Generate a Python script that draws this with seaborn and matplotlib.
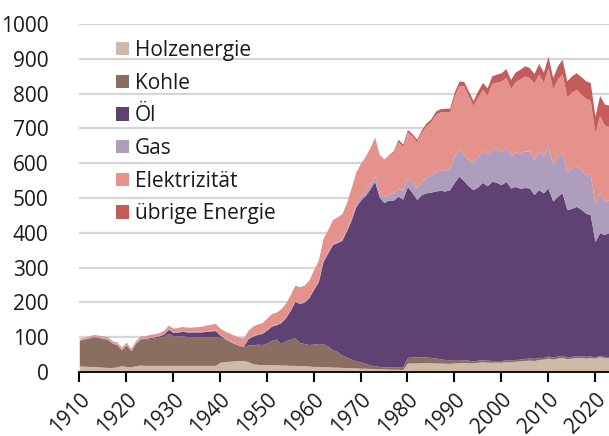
import matplotlib
matplotlib.use("Agg")
import matplotlib.pyplot as plt
import seaborn as sns
import pandas as pd
from matplotlib.patches import Patch

years = list(range(1910, 2024))

holz = [17,17,16,16,15,14,13,13,15,18,
        16,15,18,20,19,19,19,19,19,19,
        19,19,19,19,19,19,19,19,19,19,
        28,30,31,32,33,33,30,24,22,21,
        21,21,21,20,20,19,19,18,18,17,
        16,16,15,15,14,14,13,13,12,12,
        11,11,10,10,9,9,8,8,8,7,
        26,26,26,27,27,27,26,26,25,25,
        26,27,27,27,26,28,29,28,28,28,
        28,30,29,31,32,33,34,33,36,37,
        40,37,40,42,38,40,41,42,40,41,
        40,44,41,41]
kohle = [74,77,81,85,84,82,80,70,64,46,
         62,45,64,75,75,77,79,81,84,92,
         85,85,85,83,83,82,82,83,83,82,
         72,63,56,50,43,40,48,54,58,58,
         62,70,74,62,70,76,80,66,64,62,
         64,66,66,60,50,45,36,30,25,20,
         18,14,10,8,7,6,7,7,6,7,
         16,17,18,17,16,15,14,12,11,10,
         10,9,8,7,6,6,6,6,5,5,
         5,5,5,5,5,6,6,6,6,5,
         6,6,6,6,5,5,5,5,5,5,
         4,4,4,3]
oel = [1,1,1,1,1,1,1,0,0,0,
       1,1,1,1,2,3,3,4,6,12,
       10,11,13,13,13,14,14,15,16,18,
       6,3,2,1,1,1,18,25,28,32,
       38,41,41,60,66,82,104,113,119,135,
       158,178,237,267,302,313,329,363,400,444,
       465,482,506,530,486,472,479,479,491,483,
       491,472,452,466,472,475,480,484,484,489,
       509,527,515,501,492,498,510,501,515,512,
       505,513,495,497,491,491,489,471,482,473,
       483,448,459,467,424,425,430,421,412,406,
       331,352,350,357]
gas = [2,2,2,2,2,2,2,2,2,2,
       2,2,2,2,2,2,2,2,2,2,
       2,2,2,2,2,2,2,2,2,2,
       2,2,2,2,1,1,2,2,2,2,
       2,2,2,2,2,2,2,2,2,2,
       3,3,4,4,4,4,5,5,6,8,
       10,12,14,16,14,16,17,20,25,25,
       25,30,33,38,45,48,57,58,60,61,
       77,77,75,77,78,88,92,90,92,95,
       94,100,92,99,102,105,106,101,111,106,
       119,105,117,115,110,115,116,114,111,116,
       111,115,95,95]
elektrizitaet = [3,3,4,4,4,5,5,5,5,6,
                 5,5,5,6,6,7,7,7,9,10,
                 10,11,12,12,12,13,14,16,17,19,
                 18,20,21,21,22,23,22,27,28,29,
                 32,34,34,38,40,43,45,46,47,49,
                 54,59,63,64,68,70,72,75,87,91,
                 95,100,104,110,108,108,112,118,132,126,
                 132,133,133,142,148,155,163,168,168,163,
                 171,184,197,182,163,171,175,171,189,193,
                 204,199,194,202,212,216,211,219,222,211,
                 227,216,220,227,214,219,220,217,219,212,
                 201,222,220,209]
uebrige = [0]*60 + [1,1,1,1,1,1,2,4,7,7,
                    7,7,7,7,8,8,10,9,10,10,
                    12,12,13,14,15,17,20,21,22,23,
                    24,25,26,28,28,29,29,28,30,30,
                    32,34,38,42,46,47,48,50,50,52,
                    48,58,60,62]

labels = ["Holzenergie", "Kohle", "Öl", "Gas", "Elektrizität", "übrige Energie"]
colors = ["#cdbaa8", "#8a6f60", "#604174", "#af9dbd", "#e5928c", "#c45c5c"]
xticks = list(range(1910, 2030, 10))
yticks = list(range(0, 1100, 100))

df = pd.DataFrame({"Jahr": years, labels[0]: holz, labels[1]: kohle, labels[2]: oel,
                   labels[3]: gas, labels[4]: elektrizitaet, labels[5]: uebrige})

sns.set_theme(style="white")
plt.rcParams["font.family"] = ["Open Sans", "DejaVu Sans"]
txt = "#1a1a1a"

fig = plt.figure(figsize=(6.09, 4.36), dpi=100)
ax = fig.add_axes([79.3/609, 1 - 372/436, 1 - 79.3/609, (372 - 24)/436])

ax.stackplot(df["Jahr"], [df[l] for l in labels], colors=colors, linewidth=0, zorder=2)

ax.set_xlim(1910, 2023)
ax.set_ylim(0, 1000)
ax.set_yticks(yticks)
ax.set_xticks(xticks)
ax.yaxis.grid(True, color="#d6d6d6", linewidth=1.6, zorder=0)
ax.xaxis.grid(False)
ax.set_axisbelow(True)
sns.despine(ax=ax, left=True, right=True, top=True)
ax.spines["bottom"].set_color("black")
ax.spines["bottom"].set_linewidth(1.3)
ax.spines["bottom"].set_zorder(5)
ax.tick_params(axis="y", length=0, pad=22, labelsize=15, labelcolor=txt)
ax.tick_params(axis="x", direction="out", length=7, width=1.5, color="black",
               pad=5, labelsize=15, labelcolor=txt, bottom=True)
for lab in ax.get_xticklabels():
    lab.set_rotation(45)
    lab.set_ha("right")
    lab.set_va("top")
    lab.set_rotation_mode("anchor")
ax.set_xlabel("")
ax.set_ylabel("")

handles = [Patch(facecolor=c, edgecolor="none") for c in colors]
leg = fig.legend(handles, labels, loc="upper left", bbox_to_anchor=(116/609, 1 - 40/436),
                 frameon=False, fontsize=15, handlelength=0.62, handleheight=0.62,
                 handletextpad=0.28, labelspacing=0.56, borderpad=0, borderaxespad=0)
for t in leg.get_texts():
    t.set_color(txt)

fig.savefig("out.png", dpi=100)
